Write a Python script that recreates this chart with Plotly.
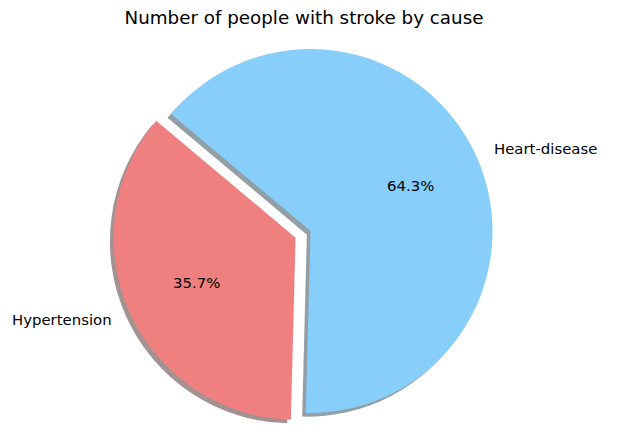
import math
import plotly.graph_objects as go

# ---- data ----
labels = ["Hypertension", "Heart-disease"]
percent = [35.7, 64.3]
colors = ["#F08080", "#87CEFA"]          # lightcoral, lightskyblue
explode = [0.09, 0.0]
title_text = "Number of people with stroke by cause"

# ---- layout geometry (page pixels) ----
OFF = 8                       # default body margin of the html page
W, H = 623 - 2 * OFF, 448 - 2 * OFF
CX, CY, R = 310.5 - OFF, 231.0 - OFF, 182.0
START_ANGLE = 140.0          # degrees, math convention, first slice starts here going ccw
SHADOW = 0.02                # matplotlib shadow offset (fraction of radius)
FONT = "DejaVu Sans"
LABEL_SIZE = 14.9
TITLE_SIZE = 18.3

maxpull = max(explode)
box = R * (2 + 2 * maxpull)


def domain(dx=0.0, dy=0.0):
    return dict(
        x=[(CX + dx - box / 2) / W, (CX + dx + box / 2) / W],
        y=[1 - (CY + dy + box / 2) / H, 1 - (CY + dy - box / 2) / H],
    )


def shadow_rgba(hexcol):
    r = int(hexcol[1:3], 16) * 0.3
    g = int(hexcol[3:5], 16) * 0.3
    b = int(hexcol[5:7], 16) * 0.3
    return f"rgba({r:.0f},{g:.0f},{b:.0f},0.5)"


# plotly: clockwise from 12 o'clock; reverse order so slices appear counterclockwise like matplotlib
rot = 90.0 - START_ANGLE
p_labels = labels[::-1]
p_vals = percent[::-1]
p_cols = colors[::-1]
p_pull = explode[::-1]

fig = go.Figure()
fig.add_trace(go.Pie(
    labels=p_labels, values=p_vals, sort=False, direction="clockwise", rotation=rot % 360,
    marker=dict(colors=[shadow_rgba(c) for c in p_cols], line=dict(width=0)),
    pull=p_pull, textinfo="none", hoverinfo="skip", showlegend=False,
    domain=domain(-SHADOW * R, SHADOW * R),
))
fig.add_trace(go.Pie(
    labels=p_labels, values=p_vals, sort=False, direction="clockwise", rotation=rot % 360,
    marker=dict(colors=p_cols, line=dict(width=0)),
    pull=p_pull, textinfo="none", hoverinfo="label+percent", showlegend=False,
    domain=domain(),
))

# matplotlib-style labels: label at 1.1 r, percentage at 0.6 r, from the (exploded) wedge centre
total = sum(percent)
annotations = []
theta = START_ANGLE
for lab, val, ex in zip(labels, percent, explode):
    span = 360.0 * val / total
    mid = math.radians(theta + span / 2)
    theta += span
    cx = CX + ex * R * math.cos(mid)
    cy = CY - ex * R * math.sin(mid)
    lx = cx + 1.1 * R * math.cos(mid)
    ly = cy - 1.1 * R * math.sin(mid)
    annotations.append(dict(
        x=lx / W, y=1 - ly / H, xref="paper", yref="paper", text=lab, showarrow=False,
        xanchor="left" if math.cos(mid) > 0 else "right", yanchor="middle", borderpad=0,
        font=dict(family=FONT, size=LABEL_SIZE, color="black"),
    ))
    px_ = cx + 0.6 * R * math.cos(mid)
    py_ = cy - 0.6 * R * math.sin(mid)
    annotations.append(dict(
        x=px_ / W, y=1 - py_ / H, xref="paper", yref="paper", text=f"{100 * val / total:.1f}%",
        showarrow=False, xanchor="center", yanchor="middle", borderpad=0,
        font=dict(family=FONT, size=LABEL_SIZE, color="black"),
    ))

fig.update_layout(
    width=W, height=H,
    margin=dict(l=0, r=0, t=0, b=0),
    paper_bgcolor="white", plot_bgcolor="white",
    title=dict(text=title_text, x=(304 - OFF) / W, xanchor="center", y=1 - (18 - OFF) / H,
               yanchor="middle", yref="container", xref="container",
               font=dict(family=FONT, size=TITLE_SIZE, color="black")),
    annotations=annotations,
    showlegend=False,
)

fig.write_html("out.html")
